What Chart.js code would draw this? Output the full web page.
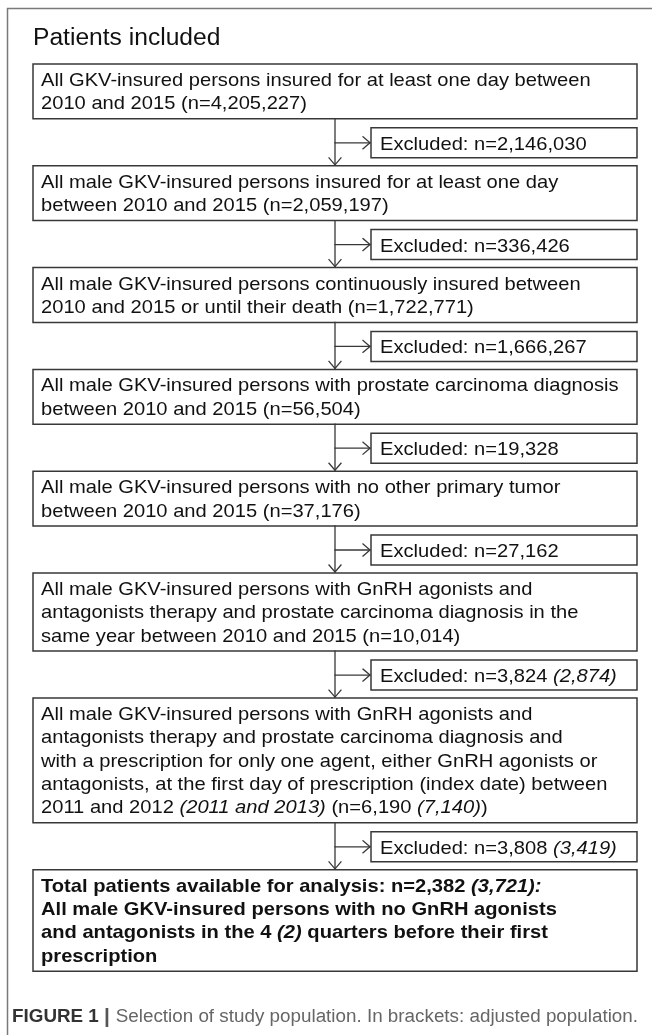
<!DOCTYPE html>
<html>
<head>
<meta charset="utf-8">
<script src="https://cdn.jsdelivr.net/npm/chart.js@4.4.1/dist/chart.umd.min.js"></script>
<style>
  html, body { margin: 0; padding: 0; background: #fff; }
  canvas { display: block; }
</style>
</head>
<body>
<canvas id="flow" width="652" height="1035" style="width:652px;height:1035px"></canvas>
<script>
(function () {
  'use strict';

  // --- Data ---
  var TITLE = 'Patients included';
  var CAPTION_LABEL = 'FIGURE 1';
  var CAPTION_TEXT = 'Selection of study population. In brackets: adjusted population.';

  var includedN = [4205227, 2059197, 1722771, 56504, 37176, 10014, 6190, 2382];
  var includedAdj = [null, null, null, null, null, null, 7140, 3721];
  var excludedN = [2146030, 336426, 1666267, 19328, 27162, 3824, 3808];
  var excludedAdj = [null, null, null, null, null, 2874, 3419];

  // *...* = italic part, {n} = count, {a} = adjusted count
  var stepLines = [
    ['All GKV-insured persons insured for at least one day between',
     '2010 and 2015 (n={n})'],
    ['All male GKV-insured persons insured for at least one day',
     'between 2010 and 2015 (n={n})'],
    ['All male GKV-insured persons continuously insured between',
     '2010 and 2015 or until their death (n={n})'],
    ['All male GKV-insured persons with prostate carcinoma diagnosis',
     'between 2010 and 2015 (n={n})'],
    ['All male GKV-insured persons with no other primary tumor',
     'between 2010 and 2015 (n={n})'],
    ['All male GKV-insured persons with GnRH agonists and',
     'antagonists therapy and prostate carcinoma diagnosis in the',
     'same year between 2010 and 2015 (n={n})'],
    ['All male GKV-insured persons with GnRH agonists and',
     'antagonists therapy and prostate carcinoma diagnosis and',
     'with a prescription for only one agent, either GnRH agonists or',
     'antagonists, at the first day of prescription (index date) between',
     '2011 and 2012 *(2011 and 2013)* (n={n} *({a})*)'],
    ['Total patients available for analysis: n={n} *({a}):*',
     'All male GKV-insured persons with no GnRH agonists',
     'and antagonists in the 4 *(2)* quarters before their first',
     'prescription']
  ];
  var boldSteps = [false, false, false, false, false, false, false, true];

  // --- Layout (in axis units, 1 unit = 1 px) ---
  var W = 652, H = 1035;
  var BOX_L = 33, BOX_R = 637, EXC_L = 371, STEM_X = 335;
  var TOP0 = 64, LINE_H = 23.3, BOX_BASE = 8.2, FIRST_BASE = 22;
  var GAP1 = 9, EXC_H = 30, GAP2 = 8;
  var TEXT_PAD = 8;
  var FONT = '"Liberation Sans", Arial, Helvetica, sans-serif';
  var FONT_SIZE = 19, STRETCH = 1.06;
  var LINE_COLOR = '#383838';

  function fmt(n) { return n.toLocaleString('en-US'); }

  var boxes = [], excl = [];
  var y = TOP0;
  for (var i = 0; i < stepLines.length; i++) {
    var h = BOX_BASE + stepLines[i].length * LINE_H;
    var lines = stepLines[i].map(function (t) {
      return t.replace('{n}', fmt(includedN[i])).replace('{a}', includedAdj[i] != null ? fmt(includedAdj[i]) : '');
    });
    boxes.push({ top: y, bottom: y + h, lines: lines, bold: boldSteps[i] });
    y += h;
    if (i < excludedN.length) {
      var et = y + GAP1;
      var label = 'Excluded: n=' + fmt(excludedN[i]) + (excludedAdj[i] != null ? ' *(' + fmt(excludedAdj[i]) + ')*' : '');
      excl.push({ top: et, bottom: et + EXC_H, label: label });
      y = et + EXC_H + GAP2;
    }
  }

  function rect(l, t, r, b) {
    return [{ x: l, y: t }, { x: r, y: t }, { x: r, y: b }, { x: l, y: b }, { x: l, y: t }];
  }

  function lineSet(pts, color, width) {
    return {
      data: pts,
      showLine: true,
      borderColor: color,
      borderWidth: width,
      pointRadius: 0,
      pointHoverRadius: 0,
      fill: false,
      tension: 0,
      borderCapStyle: 'square',
      borderJoinStyle: 'miter'
    };
  }

  var datasets = [];
  // outer frame
  datasets.push(lineSet([{ x: 7.5, y: H }, { x: 7.5, y: 8.5 }, { x: W, y: 8.5 }], '#7a7a7a', 1.5));

  boxes.forEach(function (b) {
    datasets.push(lineSet(rect(BOX_L, b.top, BOX_R, b.bottom), LINE_COLOR, 1.5));
  });
  excl.forEach(function (e, k) {
    var next = boxes[k + 1];
    var ay = (e.top + e.bottom) / 2;
    datasets.push(lineSet(rect(EXC_L, e.top, BOX_R, e.bottom), LINE_COLOR, 1.5));
    // stem
    datasets.push(lineSet([{ x: STEM_X, y: boxes[k].bottom }, { x: STEM_X, y: next.top - 1 }], LINE_COLOR, 1.3));
    datasets.push(lineSet([{ x: STEM_X - 6, y: next.top - 8 }, { x: STEM_X, y: next.top - 1 }, { x: STEM_X + 6, y: next.top - 8 }], LINE_COLOR, 1.3));
    // branch
    datasets.push(lineSet([{ x: STEM_X, y: ay }, { x: EXC_L - 1, y: ay }], LINE_COLOR, 1.3));
    datasets.push(lineSet([{ x: EXC_L - 8, y: ay - 6 }, { x: EXC_L - 1, y: ay }, { x: EXC_L - 8, y: ay + 6 }], LINE_COLOR, 1.3));
  });

  // --- Text drawing ---
  function drawRich(ctx, text, x, y, size, bold) {
    var parts = text.split('*');
    var cx = 0;
    ctx.save();
    ctx.translate(x, y);
    ctx.scale(STRETCH, 1);
    for (var p = 0; p < parts.length; p++) {
      if (!parts[p]) continue;
      var italic = p % 2 === 1;
      ctx.font = (italic ? 'italic ' : '') + (bold ? 'bold ' : '') + size + 'px ' + FONT;
      ctx.fillText(parts[p], cx, 0);
      cx += ctx.measureText(parts[p]).width;
    }
    ctx.restore();
  }

  var textPlugin = {
    id: 'flowText',
    afterDatasetsDraw: function (chart) {
      var ctx = chart.ctx;
      var sx = chart.scales.x, sy = chart.scales.y;
      ctx.save();
      ctx.fillStyle = '#111';
      ctx.textBaseline = 'alphabetic';
      ctx.textAlign = 'left';

      ctx.save();
      ctx.translate(sx.getPixelForValue(33), sy.getPixelForValue(45));
      ctx.scale(1.07, 1);
      ctx.font = '23px ' + FONT;
      ctx.fillText(TITLE, 0, 0);
      ctx.restore();

      boxes.forEach(function (b) {
        b.lines.forEach(function (t, j) {
          drawRich(ctx, t, sx.getPixelForValue(BOX_L + TEXT_PAD),
            sy.getPixelForValue(b.top + FIRST_BASE + j * LINE_H), FONT_SIZE, b.bold);
        });
      });
      excl.forEach(function (e) {
        drawRich(ctx, e.label, sx.getPixelForValue(EXC_L + 9),
          sy.getPixelForValue((e.top + e.bottom) / 2 + 7), FONT_SIZE, false);
      });

      // caption, condensed to fit its width
      var cx0 = sx.getPixelForValue(12), cy = sy.getPixelForValue(1022);
      var target = sx.getPixelForValue(638) - cx0;
      ctx.font = 'bold 18px ' + FONT;
      var w1 = ctx.measureText(CAPTION_LABEL + ' ').width;
      ctx.font = 'bold 20px ' + FONT;
      var w2 = ctx.measureText('| ').width;
      ctx.font = '18px ' + FONT;
      var w3 = ctx.measureText(CAPTION_TEXT).width;
      var k = target / (w1 + w2 + w3);
      ctx.translate(cx0, cy);
      ctx.scale(k, 1);
      ctx.fillStyle = '#333';
      ctx.font = 'bold 18px ' + FONT;
      ctx.fillText(CAPTION_LABEL + ' ', 0, 0);
      ctx.fillStyle = '#555';
      ctx.font = 'bold 20px ' + FONT;
      ctx.fillText('|', w1, 1);
      ctx.fillStyle = '#666';
      ctx.font = '18px ' + FONT;
      ctx.fillText(CAPTION_TEXT, w1 + w2, 0);
      ctx.restore();
    }
  };

  new Chart(document.getElementById('flow'), {
    type: 'scatter',
    data: { datasets: datasets },
    options: {
      responsive: false,
      animation: false,
      events: [],
      layout: { padding: 0 },
      plugins: { legend: { display: false }, tooltip: { enabled: false } },
      scales: {
        x: { type: 'linear', min: 0, max: W, display: false },
        y: { type: 'linear', min: 0, max: H, reverse: true, display: false }
      }
    },
    plugins: [textPlugin]
  });
})();
</script>
</body>
</html>
